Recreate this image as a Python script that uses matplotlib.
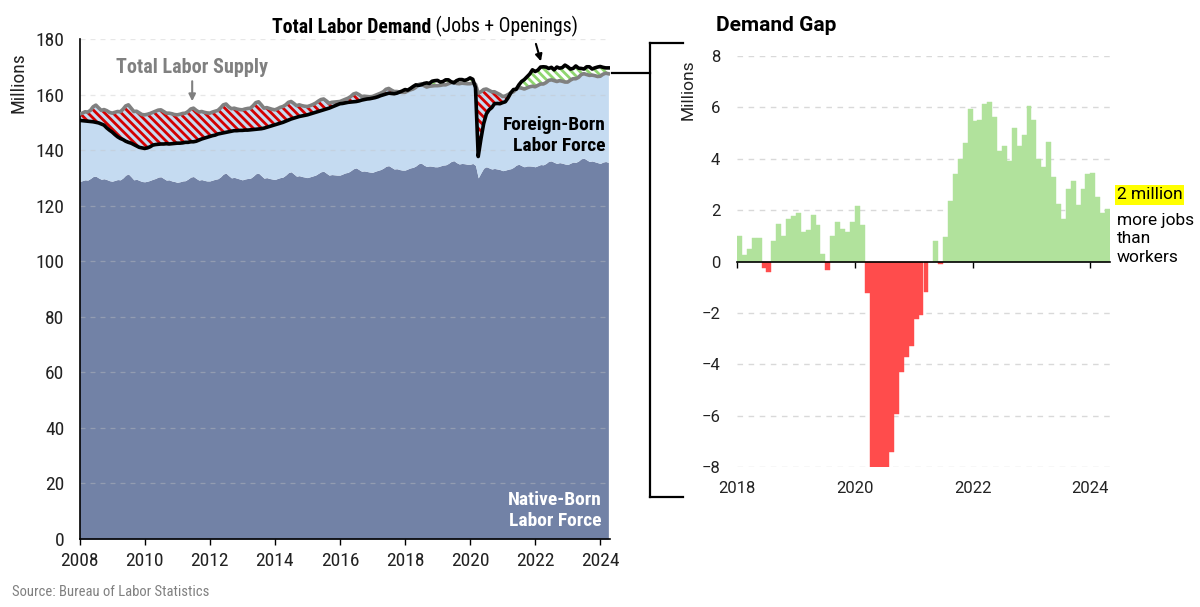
"""
Labor supply vs labor demand (2008-2024) with monthly demand gap panel.
"""

import numpy as np
import matplotlib
matplotlib.use("Agg")
import matplotlib.pyplot as plt
from matplotlib import font_manager
from matplotlib.lines import Line2D

# Monthly values, Jan 2008 - Apr 2024, millions
labor_supply = [
    153.0, 153.3, 153.8, 153.7, 154.3, 155.6, 156.2, 155.2, 154.3, 154.6, 154.2, 153.6,  # 2008
    153.3, 153.6, 153.9, 153.8, 154.7, 155.9, 156.3, 155.1, 153.9, 154.0, 153.4, 152.8,  # 2009
    152.7, 152.9, 153.2, 153.6, 154.0, 154.4, 154.5, 153.9, 153.3, 153.3, 153.1, 152.8,  # 2010
    152.7, 152.9, 153.2, 153.3, 153.9, 154.8, 155.1, 154.3, 153.7, 153.9, 153.6, 153.4,  # 2011
    153.3, 153.7, 154.0, 154.3, 155.2, 156.3, 156.6, 155.6, 154.9, 155.1, 154.8, 154.6,  # 2012
    154.5, 154.8, 155.0, 155.1, 156.0, 157.1, 157.4, 156.3, 155.1, 155.3, 155.0, 154.7,  # 2013
    154.5, 154.9, 155.4, 155.7, 156.3, 157.2, 157.5, 156.8, 156.0, 156.3, 156.0, 155.8,  # 2014
    155.7, 156.0, 156.4, 156.9, 157.6, 158.2, 158.4, 157.7, 156.9, 157.2, 157.3, 157.4,  # 2015
    157.5, 157.9, 158.3, 158.7, 159.3, 160.2, 160.5, 160.0, 159.3, 159.4, 159.3, 159.2,  # 2016
    159.3, 159.7, 160.1, 160.5, 161.0, 161.9, 162.2, 161.6, 161.1, 161.1, 160.9, 160.8,  # 2017
    160.8, 161.3, 161.7, 162.0, 162.6, 163.6, 163.9, 163.2, 162.7, 163.0, 163.1, 163.2,  # 2018
    163.2, 163.3, 163.5, 163.5, 163.9, 164.3, 164.5, 164.0, 163.9, 164.1, 164.0, 163.9,  # 2019
    163.9, 164.1, 163.7, 160.5, 161.0, 161.8, 162.0, 161.5, 161.0, 161.0, 160.5, 160.0,  # 2020
    159.3, 159.5, 160.0, 160.6, 161.0, 162.0, 162.5, 162.3, 162.0, 162.4, 162.8, 163.0,  # 2021
    162.8, 163.3, 163.8, 163.8, 164.3, 165.1, 165.3, 165.0, 164.7, 165.0, 164.8, 164.5,  # 2022
    164.5, 165.2, 165.7, 165.7, 166.2, 167.2, 167.5, 167.2, 166.9, 167.0, 166.8, 166.5,  # 2023
    166.6, 167.3, 167.7, 167.5,                                                          # 2024
]

labor_demand = [
    150.7, 150.6, 150.5, 150.4, 150.3, 150.2, 150.0, 149.8, 149.4, 149.0, 148.0, 147.2,  # 2008
    146.5, 145.6, 144.8, 144.2, 143.8, 143.2, 142.8, 142.5, 142.0, 141.5, 141.0, 140.8,  # 2009
    140.6, 140.8, 141.2, 141.8, 142.0, 142.1, 142.2, 142.2, 142.3, 142.2, 142.3, 142.4,  # 2010
    142.5, 142.5, 142.6, 142.8, 142.8, 143.0, 143.0, 143.2, 143.6, 144.0, 144.3, 144.6,  # 2011
    144.9, 145.2, 145.4, 145.8, 146.0, 146.2, 146.4, 146.6, 146.8, 147.0, 147.0, 147.1,  # 2012
    147.1, 147.2, 147.2, 147.3, 147.4, 147.5, 147.6, 147.7, 147.9, 148.2, 148.5, 148.8,  # 2013
    149.1, 149.4, 149.7, 150.0, 150.4, 150.8, 151.2, 151.5, 151.8, 152.1, 152.3, 152.5,  # 2014
    152.7, 153.0, 153.3, 153.6, 153.9, 154.2, 154.5, 154.8, 155.1, 155.5, 155.9, 156.3,  # 2015
    156.7, 156.8, 157.0, 157.2, 157.3, 157.4, 157.5, 157.7, 158.0, 158.2, 158.4, 158.5,  # 2016
    158.7, 158.9, 159.2, 159.6, 159.9, 160.2, 160.5, 160.4, 160.3, 160.5, 160.9, 161.3,  # 2017
    161.8, 161.6, 162.2, 162.9, 163.5, 163.3, 163.5, 164.0, 164.2, 164.0, 164.8, 165.0,  # 2018
    165.1, 164.5, 164.7, 165.3, 165.3, 164.6, 164.2, 165.0, 165.4, 165.4, 165.1, 165.4,  # 2019
    166.0, 165.5, 162.5, 137.7, 144.0, 149.5, 153.0, 154.5, 155.3, 156.7, 156.8, 156.7,  # 2020
    157.1, 157.4, 158.8, 160.6, 161.8, 161.9, 163.5, 164.7, 165.4, 166.4, 167.4, 168.9,  # 2021
    168.3, 168.8, 169.9, 170.0, 169.9, 169.4, 169.8, 168.9, 169.9, 169.5, 169.7, 170.6,  # 2022
    170.0, 169.2, 169.4, 170.3, 169.5, 169.4, 169.2, 170.0, 170.0, 169.2, 169.6, 169.9,  # 2023
    170.1, 169.8, 169.6, 169.6,                                                          # 2024
]

native_born = [
    128.7, 129.0, 129.3, 129.2, 129.8, 130.5, 130.6, 130.0, 129.5, 129.7, 129.4, 129.0,  # 2008
    128.8, 129.1, 129.4, 129.3, 130.0, 131.0, 131.4, 130.4, 129.3, 129.5, 129.1, 128.7,  # 2009
    128.6, 128.8, 129.1, 129.5, 129.8, 130.3, 130.4, 129.8, 129.2, 129.3, 128.9, 128.7,  # 2010
    128.4, 128.6, 128.9, 129.0, 129.6, 130.3, 130.5, 129.8, 129.2, 129.4, 129.1, 128.9,  # 2011
    128.9, 129.2, 129.5, 129.7, 130.4, 131.4, 131.7, 130.8, 130.0, 130.2, 129.9, 129.6,  # 2012
    129.3, 129.6, 129.8, 129.9, 130.6, 131.5, 131.7, 130.8, 129.9, 130.1, 129.8, 129.6,  # 2013
    129.4, 129.8, 130.1, 130.3, 131.0, 131.9, 132.2, 131.4, 130.6, 130.8, 130.5, 130.3,  # 2014
    130.1, 130.4, 130.7, 131.0, 131.6, 132.2, 132.4, 131.7, 131.0, 131.2, 131.1, 131.0,  # 2015
    131.0, 131.4, 131.8, 132.0, 132.6, 133.3, 133.6, 133.0, 132.4, 132.5, 132.3, 132.1,  # 2016
    132.0, 132.4, 132.7, 133.0, 133.5, 134.2, 134.4, 133.8, 133.2, 133.3, 133.0, 132.8,  # 2017
    132.8, 133.2, 133.6, 133.8, 134.3, 135.1, 135.3, 134.6, 134.1, 134.3, 134.2, 134.0,  # 2018
    134.0, 134.3, 134.6, 134.7, 135.2, 135.9, 136.2, 135.5, 135.0, 135.2, 135.1, 134.9,  # 2019
    134.9, 135.2, 134.5, 130.0, 131.8, 133.5, 134.0, 133.6, 133.2, 133.4, 133.2, 133.0,  # 2020
    132.6, 132.8, 133.1, 133.3, 133.8, 134.6, 134.9, 134.4, 134.0, 134.3, 134.3, 134.2,  # 2021
    134.0, 134.4, 134.8, 134.7, 135.2, 136.0, 136.1, 135.6, 135.2, 135.5, 135.3, 135.0,  # 2022
    134.8, 135.3, 135.7, 135.6, 136.1, 136.9, 137.1, 136.5, 135.9, 136.1, 135.8, 135.5,  # 2023
    135.2, 135.7, 135.9, 135.6,                                                          # 2024
]

# Demand gap (jobs + openings minus labor force), Jan 2018 - Apr 2024, millions
demand_gap = [
    1.00, 0.25, 0.50, 0.90, 0.90, -0.26, -0.40, 0.80, 1.47, 0.98, 1.65, 1.79,      # 2018
    1.89, 1.15, 1.22, 1.80, 1.43, 0.30, -0.34, 0.98, 1.52, 1.26, 1.13, 1.53,       # 2019
    2.16, 1.41, -1.23, -8.0, -8.0, -8.0, -8.0, -7.40, -5.93, -4.30, -3.73, -3.29,  # 2020
    -2.25, -2.07, -1.20, 0.0, 0.78, -0.08, 0.96, 2.37, 3.40, 4.00, 4.60, 5.93,     # 2021
    5.48, 5.50, 6.12, 6.20, 5.63, 4.31, 4.49, 3.91, 5.20, 4.50, 4.91, 6.06,        # 2022
    5.49, 4.00, 3.67, 4.64, 3.30, 2.22, 1.66, 2.82, 3.14, 2.19, 2.82, 3.42,        # 2023
    3.46, 2.50, 1.88, 2.06,                                                        # 2024
]

START_YEAR = 2008
GAP_START_YEAR = 2018

# Colors
NATIVE_COLOR = "#7282a6"
FOREIGN_COLOR = "#c5dbf1"
SUPPLY_COLOR = "#808080"
RED_HATCH = "#d40000"
GREEN_HATCH = "#8fd66f"
GREEN_BAR = "#b1e29c"
RED_BAR = "#ff4c4c"
GRID_COLOR = "#c4c4c4"

names = {f.name for f in font_manager.fontManager.ttflist}
COND = "Roboto Condensed" if "Roboto Condensed" in names else "Roboto"
plt.rcParams["font.family"] = ["Roboto", "DejaVu Sans"]
plt.rcParams["hatch.linewidth"] = 2.0

supply = np.array(labor_supply)
demand = np.array(labor_demand)
native = np.array(native_born)
gap = np.array(demand_gap)
t = START_YEAR + np.arange(len(supply)) / 12.0

W, H = 1200, 607
fig = plt.figure(figsize=(W / 100, H / 100), dpi=100)


def fx(px):
    return px / W


def fy(py):
    return 1 - py / H


# ---------------- Left panel ----------------
ax = fig.add_axes([fx(79.6), fy(539), fx(610) - fx(79.6), fy(39) - fy(539)])
ax.set_xlim(2008, 2024.3)
ax.set_ylim(0, 180)

ax.fill_between(t, 0, native, color=NATIVE_COLOR, linewidth=0, zorder=1)
ax.fill_between(t, native, supply, color=FOREIGN_COLOR, linewidth=0, zorder=1)

for yv in range(20, 181, 20):
    ax.axhline(yv, color=GRID_COLOR, lw=0.9, ls=(0, (4, 4)), alpha=0.4, zorder=1.5)

ax.fill_between(t, supply, demand, where=supply >= demand, interpolate=True,
                facecolor="none", edgecolor=RED_HATCH, hatch="\\\\\\\\", linewidth=0, zorder=1.6)
ax.fill_between(t, supply, demand, where=demand >= supply, interpolate=True,
                facecolor="none", edgecolor=GREEN_HATCH, hatch="\\\\\\\\", linewidth=0, zorder=1.6)

ax.plot(t, supply, color=SUPPLY_COLOR, lw=2.6, zorder=3, solid_joinstyle="round")
ax.plot(t, demand, color="black", lw=2.6, zorder=4, solid_joinstyle="round")

ax.set_xticks(range(2008, 2025, 2))
ax.set_yticks(range(0, 181, 20))
for sp in ["top", "right"]:
    ax.spines[sp].set_visible(False)
for sp in ["left", "bottom"]:
    ax.spines[sp].set_linewidth(1.2)
ax.tick_params(axis="y", length=0, pad=11, labelsize=14, labelcolor="#222222")
ax.tick_params(axis="x", length=4, width=1, pad=5, labelsize=14, labelcolor="#222222")
for lab in ax.get_xticklabels() + ax.get_yticklabels():
    lab.set_fontfamily(COND)
ax.set_ylabel("Millions", fontsize=14, family=COND, color="#222222")
ax.yaxis.set_label_coords(-0.098, 0.912)

# annotations
t1 = ax.text(2013.92, 184, "Total Labor Demand", fontsize=14.2, fontweight="bold",
             family=COND, va="center", ha="left", color="black")
ax.annotate(" (Jobs + Openings)", xy=(1, 0), xycoords=t1, va="bottom", ha="left",
            fontsize=14.2, family=COND, color="black")
ax.annotate("", xy=(2022.2, 171.0), xytext=(2022.0, 179.2),
            arrowprops=dict(arrowstyle="-|>", color="black", lw=1.5, mutation_scale=10))

ax.text(2011.46, 169.6, "Total Labor Supply", fontsize=14.5, fontweight="bold",
        family=COND, va="center", ha="center", color=SUPPLY_COLOR)
ax.annotate("", xy=(2011.46, 156.6), xytext=(2011.46, 165.8),
            arrowprops=dict(arrowstyle="-|>", color=SUPPLY_COLOR, lw=1.5, mutation_scale=10))

ax.text(2024.17, 145.4, "Foreign-Born\nLabor Force", fontsize=14, fontweight="bold",
        family=COND, va="center", ha="right", multialignment="right", linespacing=1.2,
        color="black", zorder=5)
ax.text(2024.05, 10.4, "Native-Born\nLabor Force", fontsize=14, fontweight="bold",
        family=COND, va="center", ha="right", multialignment="right", linespacing=1.2,
        color="white", zorder=5)

# ---------------- Right panel ----------------
ax2 = fig.add_axes([fx(737), fy(467), fx(1110) - fx(737), fy(56) - fy(467)])
gx = GAP_START_YEAR + np.arange(len(gap)) / 12.0
bar_colors = [GREEN_BAR if v >= 0 else RED_BAR for v in gap]
ax2.bar(gx, gap, width=1 / 12, align="edge", color=bar_colors,
        edgecolor=bar_colors, linewidth=0.3, zorder=2)
ax2.set_xlim(GAP_START_YEAR, GAP_START_YEAR + len(gap) / 12.0)
ax2.set_ylim(-8, 8)
ax2.set_yticks(range(-8, 9, 2))
for yv in range(-8, 9, 2):
    if yv != 0:
        ax2.axhline(yv, color="#d9d9d9", lw=1.0, ls=(0, (4, 4)), zorder=1)

for sp in ["top", "right", "left"]:
    ax2.spines[sp].set_visible(False)
ax2.spines["bottom"].set_position(("data", 0))
ax2.spines["bottom"].set_linewidth(1.2)
ax2.spines["bottom"].set_zorder(3)
ax2.set_xticks([2018, 2020, 2022, 2024])
ax2.tick_params(axis="x", labelbottom=False, length=4, width=1, direction="out")
ax2.tick_params(axis="y", length=0, pad=12, labelsize=12, labelcolor="#222222")

sec = ax2.secondary_xaxis(0)
sec.set_xticks([2018, 2020, 2022, 2024])
sec.tick_params(length=0, pad=10, labelsize=12, labelcolor="#222222")
sec.spines["bottom"].set_visible(False)

ax2.set_ylabel("Millions", fontsize=12.5, color="#222222")
ax2.yaxis.set_label_coords(-0.11, 0.917)

ax2.text(-0.056, 1.075, "Demand Gap", transform=ax2.transAxes, fontsize=15,
         fontweight="bold", va="center", ha="left", color="black")
ytr = ax2.get_yaxis_transform()
ax2.text(1.018, 2.59, "2 million", transform=ytr, fontsize=12.5, va="center", ha="left",
         color="black", clip_on=False,
         bbox=dict(facecolor="#ffff00", edgecolor="none", pad=1.5))
ax2.text(1.018, 0.88, "more jobs\nthan\nworkers", transform=ytr,
         fontsize=12.5, va="center", ha="left", linespacing=1.3, color="black")

# bracket connecting the two panels
bracket = dict(color="black", lw=1.6, transform=fig.transFigure)
fig.add_artist(Line2D([fx(612), fx(650)], [fy(73), fy(73)], **bracket))
fig.add_artist(Line2D([fx(650), fx(650)], [fy(43), fy(497)], **bracket))
fig.add_artist(Line2D([fx(650), fx(683)], [fy(43), fy(43)], **bracket))
fig.add_artist(Line2D([fx(650), fx(683)], [fy(497), fy(497)], **bracket))

fig.text(fx(12), fy(592), "Source: Bureau of Labor Statistics", fontsize=10.5,
         family=COND, color="#808080", va="center", ha="left")

fig.savefig("out.png", dpi=100)
plt.close(fig)
